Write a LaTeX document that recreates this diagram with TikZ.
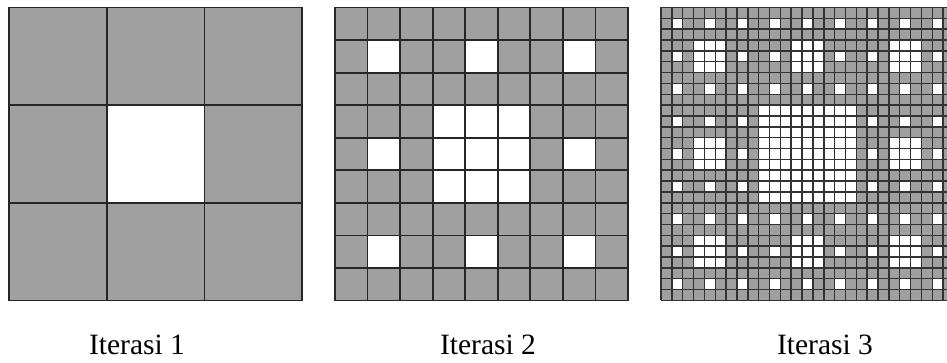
\documentclass[tikz,border=0pt]{standalone}
\usepackage{fontspec}
\setmainfont{Liberation Serif}
\begin{document}
\begin{tikzpicture}[x=1pt,y=1pt,
  cellgray/.style={fill={rgb,255:red,160;green,160;blue,160}},
  gridline/.style={draw=black!85,line width=1.8pt},
  finegrid/.style={draw=black!80,line width=1.5pt},
  caption/.style={font=\fontsize{29.5}{32}\selectfont,anchor=base,inner sep=0pt}]
\useasboundingbox (0,0) rectangle (947,363);
\fill[white] (0,0) rectangle (947,363);
\begin{scope}
\clip (0,0) rectangle (947,363);
% carpets: origin top-left X, Y; N cells; cell size c
\foreach \X/\N/\c/\st in {9/3/97.7/gridline, 335/9/32.56/gridline, 661/27/10.85/finegrid}{
  \pgfmathsetmacro\Y{355.5}
  \pgfmathsetmacro\S{\N*\c}
  \fill[cellgray] (\X,\Y-\S) rectangle (\X+\S,\Y);
  \pgfmathtruncatemacro\M{\N-1}
  \foreach \i in {0,...,\M}{
    \foreach \j in {0,...,\M}{
      \pgfmathtruncatemacro\w{(mod(\i,3)==1)*(mod(\j,3)==1)+(mod(int(\i/3),3)==1)*(mod(int(\j/3),3)==1)+(mod(int(\i/9),3)==1)*(mod(int(\j/9),3)==1)}
      \ifnum\w>0
        \fill[white] (\X+\i*\c,\Y-\j*\c) rectangle (\X+\i*\c+\c,\Y-\j*\c-\c);
      \fi
    }
  }
  \foreach \k in {0,...,\N}{
    \draw[\st] (\X+\k*\c,\Y) -- (\X+\k*\c,\Y-\S);
    \draw[\st] (\X,\Y-\k*\c) -- (\X+\S,\Y-\k*\c);
  }
}
\end{scope}
\node[caption] (l1) at (137,8) {Iterasi 1};
\node[caption] (l2) at (488,8) {Iterasi 2};
\node[caption] (l3) at (825,8) {Iterasi 3};
\end{tikzpicture}
\end{document}
